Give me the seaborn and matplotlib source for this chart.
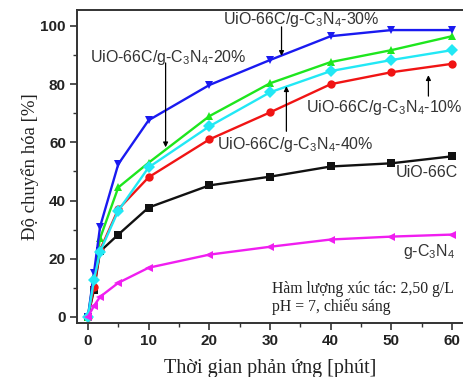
import matplotlib
matplotlib.use("Agg")
import matplotlib.pyplot as plt
import seaborn as sns
import pandas as pd

# ---------------- data ----------------
time_min = [0, 1, 2, 5, 10, 20, 30, 40, 50, 60]
uio66c = [0, 9.3, 22.5, 28.3, 37.6, 45.2, 48.2, 51.7, 52.8, 55.2]
comp_10 = [0, 10.3, 23.0, 37.0, 48.0, 61.0, 70.3, 80.0, 84.1, 87.0]
comp_20 = [0, 14.0, 27.0, 44.5, 53.0, 69.0, 80.3, 87.6, 91.7, 96.5]
comp_30 = [0, 15.2, 31.0, 52.5, 67.6, 79.7, 88.3, 96.5, 98.6, 98.6]
comp_40 = [0, 12.8, 22.4, 36.5, 51.4, 65.5, 77.2, 84.5, 88.3, 91.7]
gc3n4 = [0, 3.8, 6.9, 11.7, 16.9, 21.4, 24.1, 26.6, 27.6, 28.3]

series_names = ["UiO-66C", "10%", "20%", "30%", "40%", "g-C3N4"]
series_values = [uio66c, comp_10, comp_20, comp_30, comp_40, gc3n4]
x_ticks = [0, 10, 20, 30, 40, 50, 60]
y_ticks = [0, 20, 40, 60, 80, 100]

colors = {"UiO-66C": "#111111", "10%": "#f01414", "20%": "#1ee61e",
          "30%": "#1a1af0", "40%": "#22e8f5", "g-C3N4": "#f01ef0"}
markers = {"UiO-66C": "s", "10%": "o", "20%": "^", "30%": "v",
           "40%": "D", "g-C3N4": "<"}

rows = []
for name, vals in zip(series_names, series_values):
    for t, v in zip(time_min, vals):
        rows.append({"t": t, "y": v, "s": name})
df = pd.DataFrame(rows)

# ---------------- style ----------------
sns.set_theme(style="ticks")
plt.rcParams["font.family"] = ["Liberation Sans", "DejaVu Sans"]
plt.rcParams["mathtext.fontset"] = "custom"
plt.rcParams["mathtext.rm"] = "Liberation Sans"
plt.rcParams["mathtext.it"] = "Liberation Sans:italic"
plt.rcParams["mathtext.bf"] = "Liberation Sans:bold"
plt.rcParams["mathtext.default"] = "regular"

fig = plt.figure(figsize=(4.63, 3.77), dpi=100)
ax = fig.add_axes([77 / 463, 1 - 323 / 377, 1 - 77 / 463, (323 - 10) / 377])

sns.lineplot(data=df, x="t", y="y", hue="s", style="s",
             palette=colors, markers=markers, dashes=False,
             hue_order=series_names, style_order=series_names,
             markersize=6, linewidth=1.7, markeredgewidth=0,
             legend=False, ax=ax, clip_on=True)

ax.set_xlim(-1.8, 61.8)
ax.set_ylim(-2.1, 105.5)
ax.set_xticks(x_ticks)
ax.set_yticks(y_ticks)
ax.set_xticks([5, 15, 25, 35, 45, 55], minor=True)
ax.set_yticks([10, 30, 50, 70, 90], minor=True)
ax.tick_params(which="major", direction="out", length=5, width=1.2,
               colors="#333333", labelsize=11, pad=3)
ax.tick_params(which="minor", direction="out", length=3, width=1.0,
               colors="#333333")
for lab in ax.get_xticklabels() + ax.get_yticklabels():
    lab.set_fontweight("bold")
    lab.set_color("#222222")

for side in ["left", "bottom", "top"]:
    ax.spines[side].set_color("#333333")
    ax.spines[side].set_linewidth(1.4)
ax.spines["right"].set_visible(False)

serif = ["Liberation Serif", "DejaVu Serif"]
ax.set_xlabel("Thời gian phản ứng [phút]", family=serif, fontsize=14.5,
              color="#222222", labelpad=8)
ax.set_ylabel("Độ chuyển hóa [%]", family=serif, fontsize=13.5,
              color="#222222", labelpad=1)

# ---------------- annotations ----------------
tc = "#333333"
fs = 11.5
arrow = dict(arrowstyle="-|>", color="black", lw=0.9, mutation_scale=7,
             shrinkA=0, shrinkB=0)

ax.text(35.2, 102.4, r"UiO-66C/g-C$_3$N$_4$-30%", ha="center", va="center",
        fontsize=fs, color=tc)
ax.annotate("", xy=(31.9, 89.7), xytext=(31.9, 99.7), arrowprops=arrow)

ax.text(13.2, 89.3, r"UiO-66C/g-C$_3$N$_4$-20%", ha="center", va="center",
        fontsize=fs, color=tc)
ax.annotate("", xy=(12.8, 58.3), xytext=(12.8, 87.3), arrowprops=arrow)

ax.text(48.8, 72.1, r"UiO-66C/g-C$_3$N$_4$-10%", ha="center", va="center",
        fontsize=fs, color=tc)
ax.annotate("", xy=(56.1, 83.1), xytext=(56.1, 75.9), arrowprops=arrow)

ax.text(34.1, 59.3, r"UiO-66C/g-C$_3$N$_4$-40%", ha="center", va="center",
        fontsize=fs, color=tc)
ax.annotate("", xy=(32.7, 79.3), xytext=(32.7, 63.8), arrowprops=arrow)

ax.text(55.8, 49.7, "UiO-66C", ha="center", va="center", fontsize=fs,
        color=tc)
ax.text(56.2, 22.4, r"g-C$_3$N$_4$", ha="center", va="center", fontsize=fs,
        color=tc)

ax.text(30.3, 6.4, "Hàm lượng xúc tác: 2,50 g/L\npH = 7, chiếu sáng",
        ha="left", va="center", family=serif, fontsize=11.3, color="#222222",
        linespacing=1.15)

fig.savefig("out.png", dpi=100)
